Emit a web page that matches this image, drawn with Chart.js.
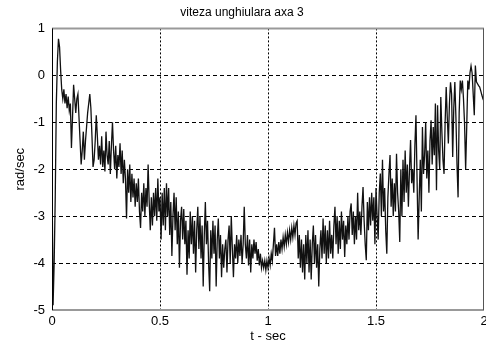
<!DOCTYPE html>
<html>
<head>
<meta charset="utf-8">
<script src="https://cdn.jsdelivr.net/npm/chart.js@4"></script>
<style>
  html, body { margin: 0; padding: 0; background: #fff; }
  canvas { display: block; }
</style>
</head>
<body>
<canvas id="vitezaChart" width="486" height="346"></canvas>
<script>
// sampled signal, one value every sampleStep seconds starting at t = 0
const sampleStep = 0.005;
const omega = [
  -2.1, -4.9, -4.0, -2.6, -0.6, 0.3, 0.78, 0.6, 0.1, -0.3,
  -0.5, -0.3, -0.6, -0.4, -0.7, -0.45, -0.75, -0.6, -1.55, -0.9,
  -0.2, -0.5, -0.8, -0.5, -0.4, -0.9, -1.4, -1.9, -1.6, -1.2,
  -1.8, -1.4, -1.1, -0.8, -0.6, -0.4, -0.7, -1.3, -1.95, -1.8,
  -1.4, -0.85, -1.3, -1.8, -1.5, -1.9, -1.3, -1.95, -1.6, -2.05,
  -1.2, -1.7, -1.9, -1.4, -2.1, -1.5, -1.0, -1.6, -2.0, -1.5,
  -2.2, -1.7, -1.95, -1.45, -2.1, -1.6, -2.3, -1.8, -2.2, -3.05,
  -2.0, -2.5, -1.9, -2.7, -2.1, -2.6, -2.2, -2.8, -2.3, -2.7,
  -2.2, -2.9, -3.25, -2.5, -2.9, -2.3, -3.0, -2.4, -2.8, -1.9,
  -2.7, -3.3, -2.6, -3.2, -2.5, -3.0, -2.4, -3.1, -2.2, -2.9,
  -2.6, -3.5, -2.5, -3.2, -2.4, -3.3, -2.3, -3.0, -2.4, -3.4,
  -2.7, -3.85, -3.0, -2.5, -3.3, -2.6, -3.6, -2.9, -4.1, -3.1,
  -2.8, -3.5, -2.85, -3.6, -3.1, -4.25, -3.3, -3.9, -2.9, -3.6,
  -3.0, -3.8, -3.1, -4.2, -3.3, -2.8, -3.7, -3.0, -3.9, -3.2,
  -4.5, -3.4, -2.7, -3.6, -3.1, -4.0, -4.6, -3.3, -3.9, -3.1,
  -3.8, -3.2, -4.5, -3.5, -3.05, -3.9, -3.4, -4.3, -3.6, -4.1,
  -3.7, -3.5, -4.2, -3.5, -3.2, -4.0, -3.0, -3.7, -4.3, -3.6,
  -3.9, -3.4, -4.0, -3.5, -3.85, -3.4, -4.0, -3.6, -2.8, -3.6,
  -3.9, -3.4, -4.05, -3.5, -4.2, -3.6, -3.9, -3.5, -3.8, -3.55,
  -3.95, -3.7, -4.05, -3.8, -4.1, -3.95, -4.1, -3.95, -4.15, -3.95,
  -4.1, -3.9, -4.05, -3.8, -3.95, -3.6, -3.25, -3.85, -3.6, -3.85,
  -3.55, -3.8, -3.5, -3.7, -3.45, -3.65, -3.4, -3.6, -3.35, -3.55,
  -3.3, -3.5, -3.25, -3.45, -3.2, -3.4, -3.15, -3.1, -3.9, -3.4,
  -4.1, -3.5, -4.2, -3.6, -4.35, -3.4, -4.0, -3.3, -4.2, -3.5,
  -4.35, -3.6, -3.2, -4.0, -3.4, -4.1, -3.6, -4.5, -3.7, -3.3,
  -3.9, -3.05, -3.8, -3.2, -4.0, -3.3, -3.9, -3.1, -3.8, -3.4,
  -3.9, -3.2, -2.8, -3.6, -3.0, -3.8, -3.1, -3.7, -2.9, -3.5,
  -3.1, -3.87, -3.2, -3.6, -3.0, -3.5, -2.9, -2.73, -3.4, -2.9,
  -3.6, -3.0, -3.5, -2.5, -3.3, -2.9, -3.4, -2.8, -2.38, -3.1,
  -3.6, -3.94, -2.7, -3.3, -2.6, -3.2, -2.5, -3.1, -2.6, -3.6,
  -2.4, -3.0, -3.5, -2.5, -2.09, -3.0, -1.8, -2.9, -2.4, -3.3,
  -3.8, -2.6, -2.1, -1.7, -2.8, -2.2, -3.0, -2.3, -2.9, -1.67,
  -2.5, -2.9, -3.55, -2.0, -3.0, -1.8, -2.7, -1.6, -2.5, -1.9,
  -2.8, -2.0, -1.38, -2.3, -2.0, -2.5, -1.5, -0.85, -2.2, -3.5,
  -2.6, -1.8, -2.9, -1.1, -2.1, -1.7, -1.0, -2.2, -1.6, -2.5,
  -1.4, -0.96, -1.9, -1.1, -1.7, -0.6, -2.45, -0.64, -1.6, -2.0,
  -0.46, -1.2, -1.8, -2.1, -1.0, -0.25, -0.9, -1.45, -0.6, -0.15,
  -0.4, -1.74, -0.7, -0.14, -0.9, -1.9, -2.6, -0.8, -0.11, -0.3,
  -0.11, -0.5, -1.03, -2.0, -1.1, -0.11, -0.3, 0.05, 0.2, 0.05,
  -0.4, -0.85, 0.21, -0.14, -0.18, -0.22, -0.25, -0.33, -0.42, -0.5,
  -0.55
];
const xTicks = [0, 0.5, 1, 1.5, 2];
const yTicks = [1, 0, -1, -2, -3, -4, -5];

const points = omega.map((v, i) => ({ x: i * sampleStep, y: v }));

const font = { family: 'Liberation Sans', size: 13 };

// box round the plot, like the matlab axes
const axesBox = {
    id: 'axesBox',
    afterDraw(chart) {
        const { ctx, chartArea: a } = chart;
        ctx.save();
        ctx.strokeStyle = '#999';
        ctx.lineWidth = 2;
        ctx.beginPath();
        ctx.moveTo(a.left, a.top); ctx.lineTo(a.right, a.top);
        ctx.moveTo(a.left, a.bottom); ctx.lineTo(a.right, a.bottom);
        ctx.stroke();
        ctx.lineWidth = 1;
        ctx.strokeStyle = '#000';
        ctx.beginPath();
        ctx.moveTo(a.left + 0.5, a.top); ctx.lineTo(a.left + 0.5, a.bottom);
        ctx.stroke();
        ctx.strokeStyle = '#555';
        ctx.beginPath();
        ctx.moveTo(a.right - 0.5, a.top); ctx.lineTo(a.right - 0.5, a.bottom);
        ctx.stroke();
        ctx.restore();
    },
};

const chart = new Chart(document.getElementById('vitezaChart'), {
    type: 'line',
    data: {
        datasets: [{
            data: points,
            borderColor: '#111',
            borderWidth: 1.3,
            pointRadius: 0,
            tension: 0,
            fill: false,
        }],
    },
    options: {
        responsive: false,
        animation: false,
        layout: { padding: { left: 0, right: 2, top: 0, bottom: 0 } },
        plugins: {
            legend: { display: false },
            tooltip: { enabled: false },
            title: {
                display: true,
                text: 'viteza unghiulara axa 3',
                color: '#000',
                font: { family: 'Liberation Sans', size: 12, weight: 'normal' },
                padding: { top: 5, bottom: 9 },
            },
        },
        scales: {
            x: {
                type: 'linear',
                min: 0,
                max: 2,
                afterBuildTicks: (s) => { s.ticks = xTicks.map(v => ({ value: v })); },
                afterFit: (s) => { s.height = 36; s.paddingLeft = 0; s.paddingRight = 0; },
                border: { display: false, dash: [2, 2] }, // dotted vertical grid
                grid: {
                    color: (c) => (c.tick && (c.tick.value === 0 || c.tick.value === 2)) ? 'rgba(0,0,0,0)' : '#000',
                    lineWidth: 1,
                    drawTicks: false,
                },
                ticks: {
                    color: '#000',
                    font: font,
                    padding: 4,
                    maxRotation: 0,
                    callback: (v) => String(v),
                },
                title: {
                    display: true,
                    text: 't - sec',
                    color: '#000',
                    font: font,
                    padding: { top: 0, bottom: 2 },
                },
            },
            y: {
                min: -5,
                max: 1,
                afterBuildTicks: (s) => { s.ticks = yTicks.map(v => ({ value: v })); },
                afterFit: (s) => { s.width = 52; s.paddingTop = 0; s.paddingBottom = 0; },
                border: { display: false, dash: [4, 3] }, // dashed horizontal grid
                grid: {
                    color: (c) => (c.tick && (c.tick.value === 1 || c.tick.value === -5)) ? 'rgba(0,0,0,0)' : '#000',
                    lineWidth: 1,
                    drawTicks: false,
                },
                ticks: {
                    color: '#000',
                    font: font,
                    padding: 7,
                    callback: (v) => String(v),
                },
                title: {
                    display: true,
                    text: 'rad/sec',
                    color: '#000',
                    font: font,
                    padding: { top: 13, bottom: 0 },
                },
            },
        },
    },
    plugins: [axesBox],
});
</script>
</body>
</html>
